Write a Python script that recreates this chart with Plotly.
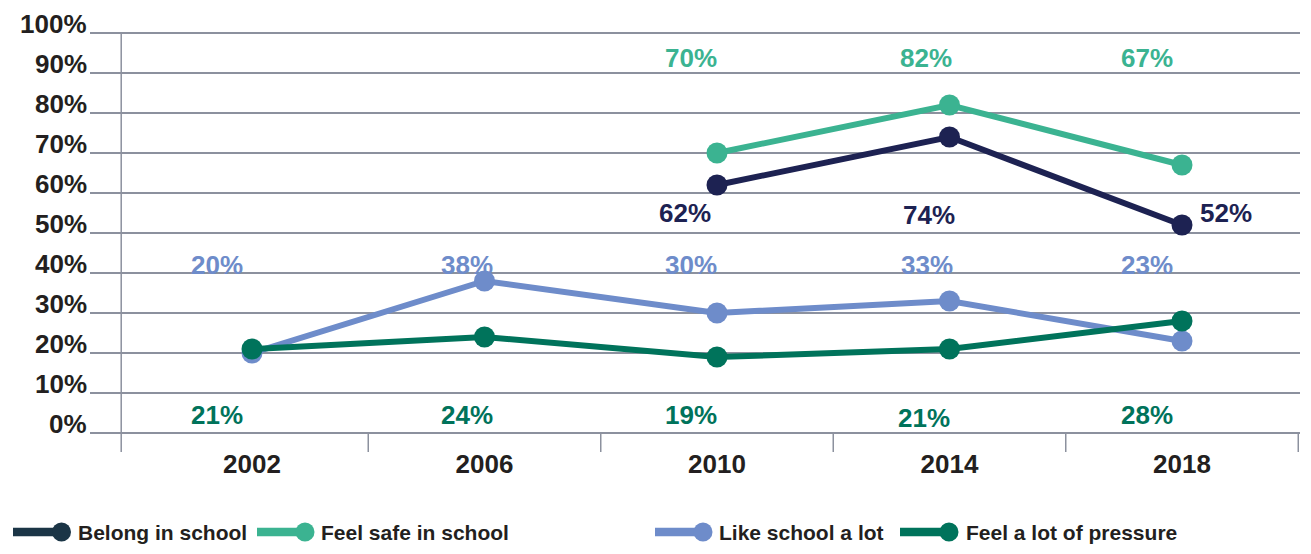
import plotly.graph_objects as go

years = [2002, 2006, 2010, 2014, 2018]
belong = [None, None, 62, 74, 52]
feel_safe = [None, None, 70, 82, 67]
like_school = [20, 38, 30, 33, 23]
pressure = [21, 24, 19, 21, 28]

y_ticks = list(range(0, 101, 10))
boundaries = [2004, 2008, 2012, 2016, 2020]

NAVY = '#1d2252'
SAFE = '#3bb391'
LIKE = '#6e8cca'
GREEN = '#00735b'
TEXT = '#231f20'
GRID = '#8c919e'
FONT = 'Liberation Sans, Arial, sans-serif'

# the page adds an 8px body margin, so figure coords = page coords - 8
OFF = 8
FIG_W, FIG_H = 1311 - OFF, 554 - OFF
L, R, T, B = 90 - OFF, 1300 - OFF, 27 - OFF, 452 - OFF
W, H = R - L, B - T


def px(x):
    return (x - OFF - L) / W


def py(y):
    return (B - (y - OFF)) / H


# name, values, line colour, legend colour, label heights (axis units), label x shifts (px)
series = [
    ('Belong in school', belong, NAVY, '#1b3546', [55, 54.5, 55], [-32, -21, 44]),
    ('Feel safe in school', feel_safe, SAFE, SAFE, [93.75] * 3, [-26, -24, -35]),
    ('Like school a lot', like_school, LIKE, LIKE, [42] * 5, [-35, -18, -26, -23, -35]),
    ('Feel a lot of pressure', pressure, GREEN, GREEN, [4.5, 4.5, 4.5, 3.75, 4.5], [-35, -18, -26, -26, -35]),
]

fig = go.Figure()
annotations = []
for name, vals, color, _, label_y, label_dx in series:
    fig.add_trace(go.Scatter(
        x=years, y=vals, name=name, mode='lines+markers',
        line=dict(color=color, width=6),
        marker=dict(color=color, size=21),
        connectgaps=False, showlegend=False, hoverinfo='skip'
    ))
    pts = [(x, v) for x, v in zip(years, vals) if v is not None]
    for (x, v), ly, dx in zip(pts, label_y, label_dx):
        annotations.append(dict(
            x=x, y=ly, xref='x', yref='y', text=f'{v}%', showarrow=False,
            xshift=dx, font=dict(family=FONT, size=26, color=color, weight='bold')
        ))

# y tick labels sit on top of their gridlines
for v in y_ticks:
    annotations.append(dict(
        x=0, y=v, xref='paper', yref='y', text=f'{v}%', showarrow=False,
        xanchor='right', yanchor='bottom', xshift=-2, yshift=-7, borderpad=0,
        font=dict(family=FONT, size=26, color=TEXT, weight='bold')
    ))

shapes = []
# y axis line, running a little below zero
shapes.append(dict(type='line', xref='x', yref='y', x0=1999.75, x1=1999.75, y0=-4.75, y1=100,
                   line=dict(color=GRID, width=1.5)))
# category boundary tick marks
for b in boundaries:
    shapes.append(dict(type='line', xref='x', yref='y', x0=b, x1=b, y0=-4.75, y1=0,
                       line=dict(color=GRID, width=1.5)))

# legend: line with a dot at its right end, then the label
legend_items = [(13, 61.5, 77), (257, 305, 320), (655, 703, 718), (900, 949, 965)]
ly = py(532)
r = 9.5
for (name, _, _, lcolor, _, _), (x0, cx, tx) in zip(series, legend_items):
    shapes.append(dict(type='line', xref='paper', yref='paper', x0=px(x0), x1=px(cx), y0=ly, y1=ly,
                       line=dict(color=lcolor, width=8.5)))
    shapes.append(dict(type='circle', xref='paper', yref='paper',
                       x0=px(cx - r), x1=px(cx + r), y0=py(532 + r), y1=py(532 - r),
                       fillcolor=lcolor, line=dict(width=0)))
    annotations.append(dict(x=px(tx), y=ly, xref='paper', yref='paper', text=name, showarrow=False,
                            xanchor='left', yanchor='middle', borderpad=0,
                            font=dict(family=FONT, size=21, color=TEXT, weight='bold')))

fig.update_layout(
    width=FIG_W, height=FIG_H,
    margin=dict(l=L, r=FIG_W - R, t=T, b=FIG_H - B),
    paper_bgcolor='white', plot_bgcolor='white',
    showlegend=False,
    shapes=shapes, annotations=annotations,
    xaxis=dict(
        range=[1999.213, 2020.03], tickvals=years, ticktext=[str(y) for y in years],
        showgrid=False, zeroline=False, showline=False, ticks='', automargin=False,
        ticklabelstandoff=-6,
        tickfont=dict(family=FONT, size=26, color=TEXT, weight='bold'),
    ),
    yaxis=dict(
        range=[-4.75, 101.5], tickvals=y_ticks, showticklabels=False,
        showgrid=True, gridcolor=GRID, gridwidth=1.5, zeroline=False, showline=False, ticks='',
        automargin=False,
    ),
)

fig.write_html('out.html')
